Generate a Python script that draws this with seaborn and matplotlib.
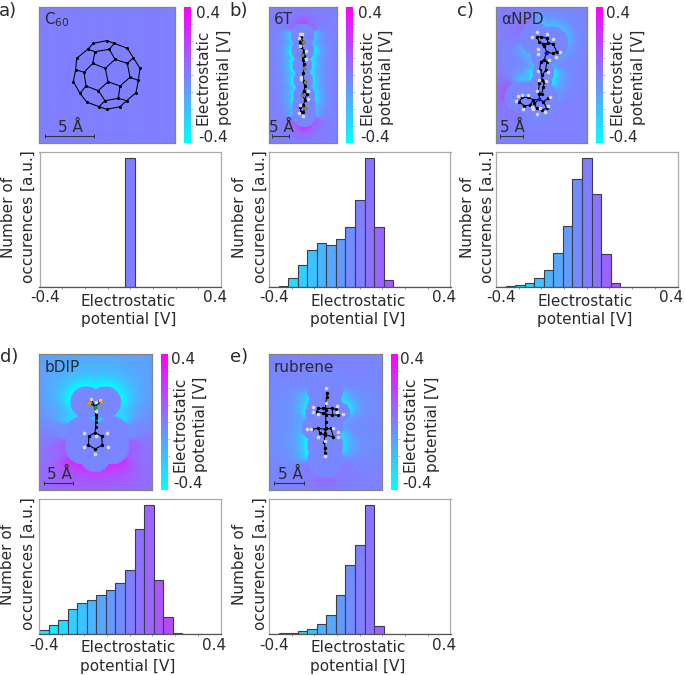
import matplotlib
matplotlib.use('Agg')
import matplotlib.pyplot as plt
import seaborn as sns
import numpy as np

sns.set_theme(style='white')
plt.rcParams['font.family'] = ['DejaVu Sans']

W, H = 685, 675
FS = 11
TXT = '#2a2a2a'
GRAY = '#9a9a9a'

pot_ticks = [-0.4, 0.4]
bin_edges = list(np.linspace(-0.4, 0.4, 20))
bin_centers = [(a + b) / 2 for a, b in zip(bin_edges[:-1], bin_edges[1:])]

c60_counts = [0, 0, 0, 0, 0, 0, 0, 0, 0, 1, 0, 0, 0, 0, 0, 0, 0, 0, 0]
t6_counts = [0, .005, .07, .168, .287, .341, .33, .372, .468, .674, 1, .47, .052, 0, 0, 0, 0, 0, 0]
npd_counts = [.003, .008, .016, .03, .072, .132, .264, .478, .84, 1, .723, .258, .03, 0, 0, 0, 0, 0, 0]
bdip_counts = [.031, .07, .108, .193, .24, .265, .30, .34, .40, .50, .82, 1, .418, .134, .005, 0, 0, 0, 0]
rub_counts = [0, .005, .008, .023, .039, .075, .147, .30, .54, .69, 1, .062, 0, 0, 0, 0, 0, 0, 0]

c60_bonds = [
    [(320,122),(280,130),(263,148),(285,155),(328,148),(343,130),(320,122)],
    [(343,130),(382,145),(400,173),(382,190),(345,178),(328,148)],
    [(263,148),(230,175),(227,209),(252,217),(278,190),(285,155)],
    [(278,190),(316,205),(345,178)],
    [(227,209),(220,245),(240,280),(258,258),(252,217)],
    [(400,173),(420,205),(415,241),(390,232),(382,190)],
    [(316,205),(324,245),(295,272),(258,258)],
    [(324,245),(360,258),(390,232)],
    [(360,258),(355,295),(315,302),(295,272)],
    [(415,241),(408,278),(380,302),(355,295)],
    [(240,280),(260,306),(297,320),(315,302)],
    [(297,320),(320,328),(360,320),(380,302)],
]
t6_bonds = [[(47,52),(44,65),(48,80),(58,92),(57,108),(54,120),(57,132),(56,145),(55,158),(52,172),
             (56,185),(60,198),(57,212),(65,222),(60,240),(55,255),(45,262),(48,275),(55,275),(60,265),(55,255)],
            [(47,52),(55,66),(48,80)], [(58,92),(51,105),(54,120)], [(52,172),(60,185),(60,198)], [(57,212),(52,225),(60,240)]]
t6_h = [(44,42),(50,41),(41,55),(44,78),(62,92),(62,118),(49,170),(47,178),(70,212),(68,238),(42,278),(55,288),(45,255)]
t6_s = [(55,66),(51,105),(57,145),(60,185),(52,225),(61,265)]

npd_bonds = [[(95,52),(108,50),(125,55),(130,70),(115,72),(103,65),(95,52)],
             [(118,78),(130,70),(145,72),(155,95),(143,100),(125,97),(118,78)],
             [(123,100),(118,120),(107,125),(104,150),(112,165),(122,150),(125,125),(118,120)],
             [(112,165),(110,180),(103,190),(100,215),(110,222),(115,200),(118,185),(110,180)],
             [(103,222),(103,238),(85,240),(70,232),(52,232),(43,245),(58,258),(75,255),(85,240)],
             [(103,238),(115,245),(130,235)], [(115,245),(125,265),(110,270),(95,265),(88,250),(103,238)]]
npd_h = [(97,37),(82,52),(127,42),(143,57),(100,87),(99,103),(165,97),(152,110),(132,120),(100,152),(128,155),
         (102,180),(122,182),(95,213),(70,226),(50,225),(33,242),(40,228),(55,268),(80,262),(85,268),(95,283),
         (120,275),(130,258),(135,230),(105,265)]
npd_n = [(123,100),(103,238)]

bdip_bonds = [[(90,143),(72,153),(70,180),(91,192),(112,180),(110,153),(90,143)],
              [(90,143),(92,125),(92,112),(92,100),(92,90),(90,65)],
              [(90,65),(72,53)], [(90,65),(108,50)], [(90,65),(78,43)], [(90,65),(104,45)]]
bdip_h = [(78,43),(92,50),(104,45),(92,78),(92,152),(56,145),(127,145),(56,185),(128,185),(91,207)]
bdip_b = [(90,65)]
bdip_f = [(72,53),(108,50)]

rub_bonds = [[(97,40),(95,50),(92,70),(92,90),(92,105),(92,125),(92,145),(90,160),(88,185),(90,205),(90,220)],
             [(68,85),(85,85),(110,85),(122,88)], [(65,95),(85,100),(110,105),(130,105)],
             [(50,148),(70,145),(90,148),(108,145)], [(75,160),(90,165),(115,170)],
             [(68,85),(65,95)], [(110,85),(110,105)], [(70,145),(75,160)], [(108,145),(115,170)]]
rub_h = [(93,25),(90,227),(55,80),(125,78),(55,95),(68,103),(127,95),(145,102),(48,148),(37,148),(115,143),
         (130,157),(70,170),(130,172),(92,70),(90,182)]

# round masks of the potential maps, page px: x, y, r
t6_mask = [(302.5,35,12),(302.5,50,11.5),(302,65,10),(303,80,10),(304,95,11),(304,105,12),(304,115,12)]
npd_mask = [(535,38,16),(552,42,16),(543,55,13),(543,72,11),(541,83,11),(520,97,16),(538,100,20),(548,103,11)]
bdip_mask = [(86,402,16),(105,402,16),(82,433,17),(112,433,17),(82,447,17),(112,447,17),(95,457,15),(95,440,18)]
rub_mask = [(325,390,18),(325,408,18),(325,425,18),(325,445,18),(325,460,18),(315,412,10),(340,412,10),(312,428,11),(332,428,11)]

# potential next to the mask edge, page px: x, y, value
t6_edge = [(290,35,-.3),(290,55,-.4),(290,75,-.4),(291,95,-.35),(292,112,-.2),(315,35,-.25),(315,55,-.4),(315,75,-.38),
           (315,95,-.35),(315,112,-.2),(302,22,.18),(292,27,.08),(312,27,.08),(304,128,.25),(293,122,.12),(315,122,.12)]
npd_edge = [(528,75,-.4),(559,78,-.4),(548,26,-.25),(530,62,-.2),(560,60,-.12),(555,95,-.1),(505,92,.15),(518,25,.07),
            (535,122,-.03),(565,110,0),(510,110,.05),(528,85,-.05)]
bdip_edge = [(95,385,-.42),(72,395,-.42),(118,395,-.42),(68,415,-.32),(122,415,-.32),(65,430,-.06),(129,430,-.06),
             (62,448,.12),(132,448,.12),(72,465,.28),(118,465,.28),(95,474,.22)]
rub_edge = [(306,405,-.35),(344,405,-.35),(306,447,-.42),(346,440,-.35),(308,425,-.15),(350,425,-.12),(325,372,-.02),
            (325,478,.08),(310,380,-.05),(340,380,-.05),(312,470,.02),(340,470,.02)]

panels = [
    dict(letter='a)', lx=-1, ly=11, title='C$_{60}$', tx=44, img=(39, 174.5), cbx=184, hx=39.5, top=7,
         counts=c60_counts, mask=[], edge=[], decay=9, far=0, bonds=c60_bonds, org=(0, 0), h=[], extra=[],
         bar=(45, 94), size=5, cbl=(17, 12, 33), ylab=(-31, -11)),
    dict(letter='b)', lx=229, ly=11, title='6T', tx=274, img=(269, 337), cbx=346, hx=269, top=7,
         counts=t6_counts, mask=t6_mask, edge=t6_edge, decay=6, far=0, bonds=t6_bonds, org=(285, 20), h=t6_h,
         extra=[(t6_s, '#8a8a10')], bar=(272, 289), size=6, cbl=(17, 14, 34), ylab=(-29, -9)),
    dict(letter='c)', lx=457, ly=11, title='αNPD', tx=501, img=(496, 587), cbx=596, hx=496, top=7,
         counts=npd_counts, mask=npd_mask, edge=npd_edge, decay=6, far=.05, bonds=npd_bonds, org=(505, 20), h=npd_h,
         extra=[(npd_n, '#1010e0')], bar=(500, 523), size=6, cbl=(15, 14, 35), ylab=(-29, -9)),
    dict(letter='d)', lx=0, ly=357, title='bDIP', tx=45, img=(39, 152), cbx=161, hx=39, top=354,
         counts=bdip_counts, mask=bdip_mask, edge=bdip_edge, decay=10, far=.3, bonds=bdip_bonds, org=(65, 385), h=bdip_h,
         extra=[(bdip_b, '#10a030'), (bdip_f, '#d8a020')], bar=(44, 73), size=6, cbl=(15, 12, 33), ylab=(-31, -11)),
    dict(letter='e)', lx=230, ly=357, title='rubrene', tx=274, img=(269, 382), cbx=391, hx=269, top=354,
         counts=rub_counts, mask=rub_mask, edge=rub_edge, decay=7, far=.15, bonds=rub_bonds, org=(295, 380), h=rub_h,
         extra=[], bar=(274, 304), size=6, cbl=(14, 12, 34), ylab=(-29, -9)),
]

fig = plt.figure(figsize=(W / 100, H / 100), dpi=100)
fig.patch.set_facecolor('white')


def px_axes(l, t, r, b):
    return fig.add_axes([l / W, 1 - b / H, (r - l) / W, (b - t) / H])


def px_text(x, y, s, **kw):
    kw.setdefault('fontsize', FS)
    kw.setdefault('color', TXT)
    kw.setdefault('ha', 'center')
    kw.setdefault('va', 'center')
    fig.text(x / W, 1 - y / H, s, **kw)


def to_page(pts, org):
    return [org[0] + p[0] / 3 for p in pts], [org[1] + p[1] / 3 for p in pts]


def potential_map(X, Y, mask, edge, decay, far):
    # edge values spread out over the map, fading away from the mask
    field = np.zeros(X.shape)
    if not mask:
        return field
    dist = np.full(X.shape, 1e9)
    for mx, my, mr in mask:
        dist = np.minimum(dist, np.hypot(X - mx, Y - my) - mr)
    top, bottom = 0, 0
    for ex, ey, v in edge:
        wt = 1 / (np.hypot(X - ex, Y - ey) ** 4 + 1)
        top = top + wt * v
        bottom = bottom + wt
    amp = top / bottom
    field = amp * (far + (1 - far) * np.exp(-np.clip(dist, 0, None) / decay))
    field[dist < 0] = -0.02
    return field


cmap = plt.get_cmap('cool')
norm = plt.Normalize(-0.4, 0.4)

for p in panels:
    top = p['top']
    l, r = p['img']
    b = top + 136

    # potential map
    ax = px_axes(l, top, r, b)
    X, Y = np.meshgrid(np.arange(l, r, 0.5), np.arange(top, b, 0.5))
    field = potential_map(X, Y, p['mask'], p['edge'], p['decay'], p['far'])
    ax.imshow(field, cmap=cmap, norm=norm, extent=(l, r, b, top), aspect='auto', interpolation='bilinear')

    # molecule
    for chain in p['bonds']:
        xs, ys = to_page(chain, p['org'])
        ax.plot(xs, ys, color='black', lw=0.75, solid_capstyle='round')
    atoms = sorted({a for chain in p['bonds'] for a in chain})
    xs, ys = to_page(atoms, p['org'])
    sns.scatterplot(x=xs, y=ys, ax=ax, color='black', s=p['size'], linewidth=0, zorder=3)
    if p['h']:
        xs, ys = to_page(p['h'], p['org'])
        sns.scatterplot(x=xs, y=ys, ax=ax, color='#d8d8d8', s=7, linewidth=0, zorder=4)
    for pts, col in p['extra']:
        xs, ys = to_page(pts, p['org'])
        sns.scatterplot(x=xs, y=ys, ax=ax, color=col, s=7, linewidth=0, zorder=5)

    # scale bar
    b0, b1 = p['bar']
    ax.plot([b0, b1], [b - 7, b - 7], color='#333333', lw=0.8, marker='|', ms=3.5, mew=0.7)
    ax.text((b0 + b1) / 2 + 1, b - 16, '5 Å', fontsize=FS, color=TXT, ha='center', va='center')
    ax.text(p['tx'], top + 13, p['title'], fontsize=FS, color=TXT, ha='left', va='center')
    ax.set_xlim(l, r)
    ax.set_ylim(b, top)
    ax.set_xticks([])
    ax.set_yticks([])
    for s in ax.spines.values():
        s.set_color('#858585')
        s.set_linewidth(0.9)

    # colorbar
    cax = px_axes(p['cbx'], top, p['cbx'] + 7, b)
    cb = fig.colorbar(plt.cm.ScalarMappable(norm=norm, cmap=cmap), cax=cax)
    cb.set_ticks(np.arange(-0.3, 0.31, 0.1))
    cb.ax.tick_params(length=1.5, width=0.5, color=GRAY, labelright=False, right=True, pad=0)
    cb.outline.set_visible(False)
    cx = p['cbx'] + 7
    tick_dx, lab1, lab2 = p['cbl']
    px_text(cx + tick_dx, top + 6, str(pot_ticks[1]))
    px_text(cx + tick_dx + 5, top + 130, str(pot_ticks[0]))
    px_text(cx + lab1, top + 70, 'Electrostatic', rotation=90)
    px_text(cx + lab2, top + 70, 'potential [V]', rotation=90)

    # histogram
    hl = p['hx']
    ht = top + 145
    hb = top + 280
    hax = px_axes(hl, ht, hl + 181.5, hb)
    sns.histplot(x=bin_centers, weights=p['counts'], bins=bin_edges, ax=hax, color='#7f7fff',
                 edgecolor='#3c3c50', linewidth=0.8, alpha=1)
    for patch, cen in zip(hax.patches, bin_centers):
        patch.set_facecolor(cmap(norm(cen)))
    hax.set_xlim(-0.4, 0.4)
    hax.set_ylim(0, 1.05)
    hax.set_xticks(np.arange(-0.3, 0.31, 0.1))
    hax.set_xticklabels([])
    hax.set_yticks([])
    hax.set_xlabel('')
    hax.set_ylabel('')
    hax.tick_params(axis='x', length=1.5, width=0.5, color='#777777', direction='out', bottom=True)
    for side, s in hax.spines.items():
        s.set_color('#aaaaaa' if side != 'bottom' else '#555555')
        s.set_linewidth(0.9)
    px_text(hl + 5.5, hb + 11, str(pot_ticks[0]))
    px_text(hl + 175.5, hb + 11, str(pot_ticks[1]))
    px_text(hl + 89, hb + 14, 'Electrostatic')
    px_text(hl + 89, hb + 32, 'potential [V]')
    px_text(hl + p['ylab'][0], ht + 65, 'Number of', rotation=90)
    px_text(hl + p['ylab'][1], ht + 65, 'occurences [a.u.]', rotation=90)

    px_text(p['lx'], p['ly'], p['letter'], fontsize=13, ha='left')

fig.savefig('out.png', dpi=100)
